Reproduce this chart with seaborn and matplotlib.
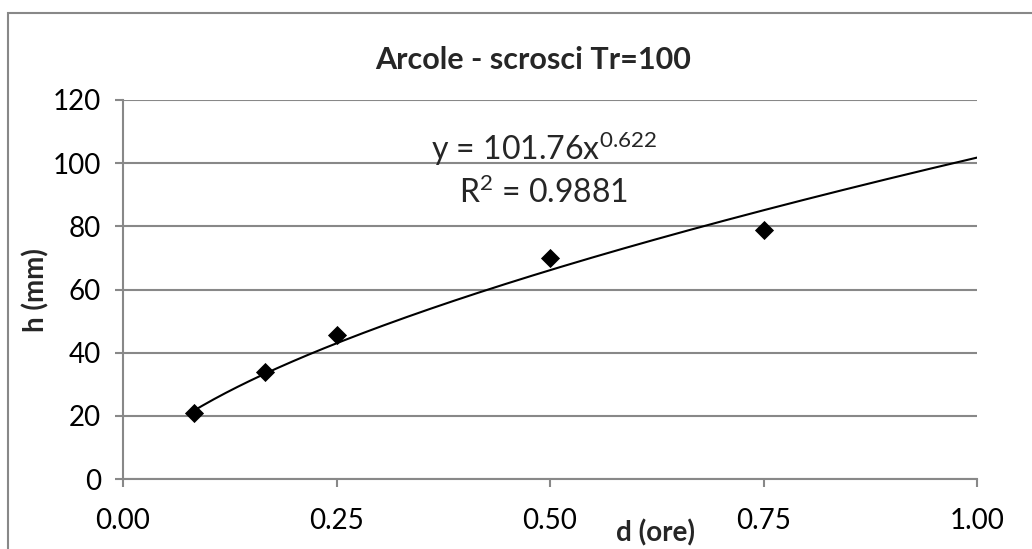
import numpy as np
import pandas as pd
import seaborn as sns
import matplotlib.pyplot as plt
from matplotlib.patches import Rectangle

# durations (hours) and rainfall heights (mm), Tr=100
durata = [1/12, 1/6, 0.25, 0.5, 0.75]
altezza = [20.9, 33.9, 45.6, 70.0, 78.8]

# power-law trendline coefficients as shown on chart
coef_a = 101.76
coef_n = 0.622
r2 = 0.9881

x_ticks = [0.0, 0.25, 0.5, 0.75, 1.0]
y_ticks = [0, 20, 40, 60, 80, 100, 120]

sns.set_style("white")
plt.rcParams['font.family'] = ['Lato', 'DejaVu Sans']
plt.rcParams['mathtext.fontset'] = 'custom'
plt.rcParams['mathtext.rm'] = 'Lato'
plt.rcParams['mathtext.it'] = 'Lato'

grey = '#888888'

fig = plt.figure(figsize=(10.32, 5.49), dpi=100)
ax = fig.add_axes([123/1032, 1 - 479/549, 854/1032, 379/549])

df = pd.DataFrame({'d': durata, 'h': altezza})

# trendline
xs = np.linspace(durata[0], 1.0, 200)
trend = pd.DataFrame({'d': xs, 'h': coef_a * xs ** coef_n})
sns.lineplot(data=trend, x='d', y='h', ax=ax, color='black', linewidth=1.5, zorder=3)

sns.scatterplot(data=df, x='d', y='h', ax=ax, marker='D', s=95, color='black',
                linewidth=0, zorder=4)

ax.set_xlim(0, 1.0)
ax.set_ylim(0, 120)
ax.set_xticks(x_ticks)
ax.set_xticklabels(['%.2f' % t for t in x_ticks])
ax.set_yticks(y_ticks)
ax.set_yticklabels([str(t) for t in y_ticks])

ax.yaxis.grid(True, color=grey, linewidth=1.5)
ax.set_axisbelow(True)
for s in ['top', 'right']:
    ax.spines[s].set_visible(False)
for s in ['left', 'bottom']:
    ax.spines[s].set_color(grey)
    ax.spines[s].set_linewidth(1.5)

ax.tick_params(axis='both', which='both', direction='out', length=6, width=1.5,
               color=grey, labelsize=20, labelcolor='black')
ax.tick_params(axis='x', pad=15)
ax.tick_params(axis='y', pad=10)
ax.tick_params(bottom=True, left=True)
ax.set_xlabel('')
ax.set_ylabel('')

ax.text(0.493, 101.0, r'y = 101.76x$^{0.622}$', ha='center', va='baseline', fontsize=23)
ax.text(0.493, 87.4, r'R$^{2}$ = %.4f' % r2, ha='center', va='baseline', fontsize=23)

fig.text(533/1032, 1 - 60/549, 'Arcole - scrosci Tr=100', ha='center', va='center',
         fontsize=22, fontweight='bold')
fig.text(656/1032, 1 - 533/549, 'd (ore)', ha='center', va='center',
         fontsize=20, fontweight='bold')
fig.text(36/1032, 1 - 290/549, 'h (mm)', ha='center', va='center', rotation=90,
         fontsize=20, fontweight='bold')

# outer chart border (cut off at right and bottom)
fig.patches.append(Rectangle((8/1032, -0.1), 1.2, 1 - 13/549 + 0.1, transform=fig.transFigure,
                             fill=False, edgecolor=grey, linewidth=1.5))

fig.savefig('out.png', dpi=100)
